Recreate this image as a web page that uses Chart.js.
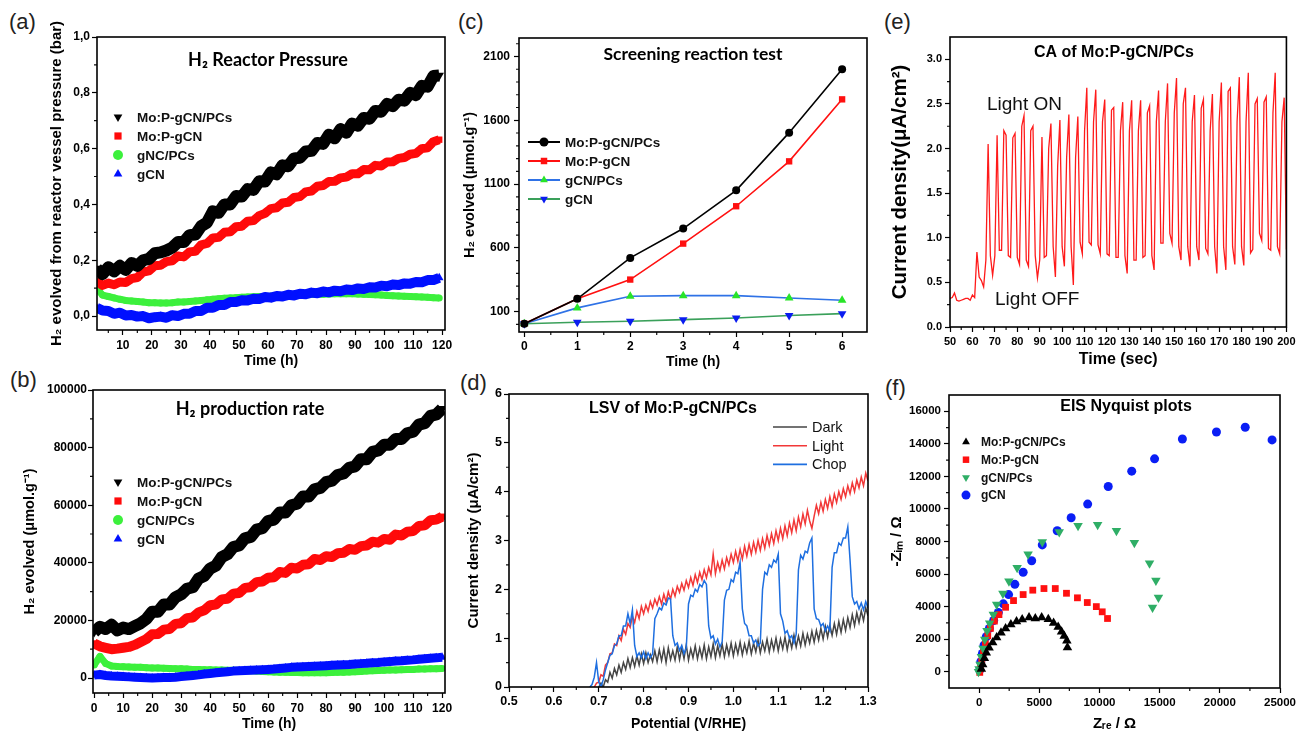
<!DOCTYPE html>
<html>
<head>
<meta charset="utf-8">
<script src="https://cdn.jsdelivr.net/npm/chart.js@4.4.1/dist/chart.umd.min.js"></script>
<style>
  body { margin: 0; background: #fff; width: 1299px; height: 733px; overflow: hidden; position: relative; }
  canvas { position: absolute; }
  .tag { position: absolute; font: 22px 'Liberation Sans', Arial, sans-serif; line-height: 26px; color: #222; }
</style>
</head>
<body>
<div class="tag" style="left:9px;top:9px">(a)</div>
<div class="tag" style="left:10px;top:367px">(b)</div>
<div class="tag" style="left:458px;top:9px">(c)</div>
<div class="tag" style="left:460px;top:370px">(d)</div>
<div class="tag" style="left:884px;top:9px">(e)</div>
<div class="tag" style="left:885px;top:375px">(f)</div>

<canvas id="chartA" width="460" height="372" style="left:0;top:0"></canvas>
<canvas id="chartB" width="460" height="368" style="left:0;top:365px"></canvas>
<canvas id="chartC" width="430" height="372" style="left:450px;top:0"></canvas>
<canvas id="chartD" width="430" height="368" style="left:450px;top:365px"></canvas>
<canvas id="chartE" width="419" height="372" style="left:880px;top:0"></canvas>
<canvas id="chartF" width="419" height="368" style="left:880px;top:365px"></canvas>

<script>
/* --------------------------
   DATA
-------------------------- */

// (a) reactor pressure, bar
const timeA = [1,3,5,7,9,11,13,15,17,19,21,23,25,27,29,31,33,35,37,39,
  41,43,45,47,49,51,53,55,57,59,61,63,65,67,69,71,73,75,77,79,
  81,83,85,87,89,91,93,95,97,99,101,103,105,107,109,111,113,115,117,119];
const pressMoPCs = [0.17,0.15,0.175,0.16,0.18,0.165,0.19,0.18,0.2,0.205,
  0.225,0.228,0.235,0.245,0.265,0.265,0.29,0.292,0.322,0.335,
  0.375,0.37,0.4,0.4,0.43,0.428,0.455,0.452,0.483,0.482,
  0.515,0.508,0.54,0.537,0.565,0.567,0.59,0.592,0.62,0.617,
  0.65,0.637,0.67,0.657,0.69,0.682,0.71,0.707,0.735,0.732,
  0.76,0.752,0.775,0.772,0.8,0.792,0.825,0.822,0.86,0.862];
const pressMo = [0.125,0.11,0.118,0.112,0.122,0.12,0.134,0.138,0.158,0.162,
  0.18,0.182,0.195,0.198,0.215,0.212,0.23,0.232,0.255,0.26,
  0.28,0.282,0.3,0.302,0.32,0.322,0.34,0.342,0.36,0.368,
  0.385,0.388,0.405,0.408,0.425,0.428,0.445,0.448,0.465,0.468,
  0.482,0.483,0.495,0.498,0.51,0.51,0.525,0.524,0.54,0.538,
  0.552,0.553,0.565,0.568,0.58,0.583,0.6,0.603,0.625,0.632];
const pressNCPCs = [0.1,0.075,0.07,0.065,0.06,0.056,0.054,0.052,0.05,0.048,
  0.048,0.047,0.047,0.048,0.05,0.05,0.052,0.054,0.056,0.058,
  0.06,0.062,0.064,0.065,0.066,0.067,0.068,0.069,0.07,0.07,
  0.071,0.072,0.073,0.074,0.075,0.075,0.076,0.077,0.078,0.078,
  0.079,0.08,0.08,0.08,0.08,0.079,0.078,0.077,0.076,0.075,
  0.074,0.073,0.072,0.071,0.07,0.069,0.068,0.067,0.066,0.065];
const pressGCN = [0.03,0.02,0.018,0.008,0.012,0.002,0.004,-0.002,0.0,-0.008,
  -0.004,-0.002,-0.006,0.003,0.0,0.008,0.008,0.018,0.018,0.03,
  0.03,0.04,0.04,0.05,0.05,0.057,0.056,0.062,0.061,0.068,
  0.066,0.072,0.07,0.076,0.074,0.08,0.078,0.084,0.082,0.088,
  0.085,0.091,0.089,0.095,0.093,0.099,0.097,0.103,0.102,0.109,
  0.107,0.113,0.111,0.117,0.116,0.122,0.121,0.129,0.129,0.137];

// (b) production, umol/g
const timeB = [0,2,4,6,8,10,12,14,16,18,20,22,24,26,28,30,32,34,36,38,
  40,42,44,46,48,50,52,54,56,58,60,62,64,66,68,70,72,74,76,78,
  80,82,84,86,88,90,92,94,96,98,100,102,104,106,108,110,112,114,116,118,120];
const prodMoPCs = [16000,17800,17000,18500,16500,17500,17000,18000,19000,20500,
  23000,23000,25500,25500,28000,29000,31000,31500,34500,35500,
  38000,39000,42000,43000,45500,46000,48500,49000,51500,52000,
  54500,55000,57500,57500,60000,60500,63000,63000,65500,66000,
  68000,68500,70500,71000,73000,73500,76000,76000,78500,79000,
  81000,81000,83000,83000,85000,85500,88000,88500,91000,91500,93500];
const prodMo = [12000,11000,10500,10000,10200,10500,10800,11500,12500,13500,
  15200,15300,16800,17000,18800,19000,20800,21000,22800,23500,
  25300,25500,27300,27500,29300,29500,31300,31500,33300,33500,
  34800,35000,36800,36500,38300,38000,39300,39500,41300,41000,
  42300,42000,43300,43500,44800,44500,45800,46000,47300,47000,
  48300,48000,49800,49500,50800,51000,52800,53000,54800,55000,56000];
const prodCNPCs = [4500,7500,5000,4200,4000,3900,3800,3700,3700,3600,
  3500,3500,3400,3300,3200,3200,3100,3000,3000,2900,
  2900,2800,2800,2700,2700,2600,2500,2500,2400,2300,
  2200,2100,2000,2000,1900,1900,1800,1800,1800,1800,
  1800,1900,2000,2000,2100,2200,2300,2400,2500,2600,
  2700,2800,2800,2900,3000,3000,3100,3100,3200,3200,3300];
const prodGCN = [1000,1200,900,700,600,500,400,300,200,100,
  0,100,200,200,300,500,700,900,1100,1400,
  1600,1800,2000,2200,2400,2500,2600,2700,2800,2900,
  3000,3100,3300,3500,3700,3800,3900,4000,4100,4200,
  4300,4400,4500,4600,4700,4900,5000,5100,5300,5400,
  5600,5700,5900,6000,6200,6300,6500,6700,6900,7000,7200];

// (c) screening reaction
const hoursC = [0,1,2,3,4,5,6];
const screenMoPCs = [5,200,521,751,1051,1503,2000];
const screenMo = [5,200,351,633,926,1278,1764];
const screenCNPCs = [5,129,220,225,225,207,189];
const screenGCN = [5,16,24,37,50,69,84];

// (d) LSV
const potentialD = [0.68,0.685,0.69,0.695,0.7,0.705,0.71,0.715,0.72,0.725,
  0.73,0.735,0.74,0.745,0.75,0.755,0.76,0.765,0.77,0.775,
  0.78,0.785,0.79,0.795,0.8,0.805,0.81,0.815,0.82,0.825,
  0.83,0.835,0.84,0.845,0.85,0.855,0.86,0.865,0.87,0.875,
  0.88,0.885,0.89,0.895,0.9,0.905,0.91,0.915,0.92,0.925,
  0.93,0.935,0.94,0.945,0.95,0.955,0.96,0.965,0.97,0.975,
  0.98,0.985,0.99,0.995,1.0,1.005,1.01,1.015,1.02,1.025,
  1.03,1.035,1.04,1.045,1.05,1.055,1.06,1.065,1.07,1.075,
  1.08,1.085,1.09,1.095,1.1,1.105,1.11,1.115,1.12,1.125,
  1.13,1.135,1.14,1.145,1.15,1.155,1.16,1.165,1.17,1.175,
  1.18,1.185,1.19,1.195,1.2,1.205,1.21,1.215,1.22,1.225,
  1.23,1.235,1.24,1.245,1.25,1.255,1.26,1.265,1.27,1.275,
  1.28,1.285,1.29,1.295,1.3];
const lsvDark = [null,null,null,null,0.0,0.08,0.0,0.15,0.1,0.3,
  0.18,0.38,0.25,0.45,0.3,0.5,0.36,0.58,0.4,0.6,
  0.42,0.64,0.45,0.68,0.48,0.7,0.5,0.66,0.52,0.74,
  0.52,0.76,0.54,0.78,0.5,0.8,0.56,0.74,0.55,0.82,
  0.56,0.8,0.58,0.86,0.55,0.78,0.6,0.84,0.58,0.8,
  0.6,0.86,0.58,0.82,0.62,0.88,0.6,0.84,0.64,0.88,
  0.62,0.86,0.66,0.9,0.64,0.88,0.68,0.92,0.66,0.88,
  0.7,0.94,0.68,0.9,0.72,0.96,0.7,0.92,0.74,0.98,
  0.72,0.96,0.76,1.0,0.74,0.98,0.78,1.02,0.76,1.0,
  0.8,1.06,0.82,1.04,0.84,1.1,0.86,1.08,0.9,1.14,
  0.92,1.16,0.96,1.2,0.98,1.24,1.02,1.26,1.06,1.3,
  1.08,1.34,1.12,1.38,1.16,1.42,1.22,1.48,1.26,1.52,
  1.32,1.56,1.36,1.62,1.46];
const lsvLight = [null,null,0.0,0.08,0.1,0.25,0.22,0.45,0.5,0.68,
  0.7,0.88,0.85,1.05,0.95,1.18,1.08,1.3,1.22,1.45,
  1.32,1.55,1.4,1.65,1.5,1.68,1.55,1.75,1.62,1.8,
  1.68,1.85,1.7,1.9,1.74,1.95,1.8,2.0,1.86,2.06,
  1.94,2.12,1.98,2.18,2.04,2.24,2.08,2.3,2.14,2.35,
  2.2,2.4,2.24,2.45,2.3,2.72,2.32,2.55,2.38,2.6,
  2.42,2.65,2.5,2.72,2.55,2.78,2.58,2.82,2.62,2.88,
  2.68,2.92,2.72,2.96,2.76,3.0,2.8,3.04,2.84,3.1,
  2.9,3.14,2.94,3.2,3.0,3.25,3.04,3.3,3.1,3.36,
  3.16,3.42,3.2,3.48,3.28,3.54,3.34,3.62,3.4,3.25,
  3.5,3.72,3.55,3.78,3.6,3.84,3.66,3.9,3.7,3.95,
  3.78,4.0,3.84,4.06,3.9,4.12,3.96,4.18,4.0,4.24,
  4.08,4.3,4.12,4.38,4.22];
const lsvChop = [0.0,0.05,0.2,0.5,0.1,0.0,0.15,0.35,0.5,0.65,
  0.68,0.85,0.88,1.05,1.05,1.25,1.25,1.5,1.3,1.58,
  0.85,0.62,0.7,0.6,0.72,0.58,0.7,0.6,0.68,1.4,
  1.5,1.62,1.58,1.72,1.68,1.82,1.8,1.05,0.85,0.9,
  0.75,0.85,0.68,0.8,1.7,1.88,1.85,2.0,1.95,2.1,
  2.05,2.18,2.1,1.25,1.0,1.05,0.88,0.98,0.82,0.92,
  1.78,1.98,2.0,2.2,2.15,2.35,2.32,2.56,1.6,1.3,
  1.25,1.05,1.05,0.9,0.96,0.84,0.9,2.0,2.35,2.3,
  2.5,2.45,2.6,2.55,2.72,1.5,1.35,1.1,1.15,1.0,
  1.05,0.9,1.08,2.4,2.7,2.62,2.78,2.75,2.95,3.05,
  1.6,1.4,1.38,1.25,1.3,1.15,1.25,1.15,2.45,2.75,
  2.75,2.95,2.9,3.05,3.05,3.28,2.6,1.85,1.7,1.75,
  1.6,1.72,1.58,1.75,1.62];

// (e) chronoamperometry
const timeE = [50,51,52,53,54,55,56,57,58,59,60,61,62,63,64,65,66,67,68,69,
  70,71,72,73,74,75,76,77,78,79,80,81,82,83,84,85,86,87,88,89,
  90,91,92,93,94,95,96,97,98,99,100,101,102,103,104,105,106,107,108,109,
  110,111,112,113,114,115,116,117,118,119,120,121,122,123,124,125,126,127,128,129,
  130,131,132,133,134,135,136,137,138,139,140,141,142,143,144,145,146,147,148,149,
  150,151,152,153,154,155,156,157,158,159,160,161,162,163,164,165,166,167,168,169,
  170,171,172,173,174,175,176,177,178,179,180,181,182,183,184,185,186,187,188,189,
  190,191,192,193,194,195,196,197,198,199,200];
const currentE = [0.32,0.33,0.38,0.30,0.29,0.30,0.31,0.32,0.32,0.30,
  0.36,0.33,0.84,0.56,0.52,0.45,0.75,2.05,0.80,0.58,
  0.80,2.15,0.86,0.86,2.20,2.15,0.80,0.78,2.12,2.17,
  0.78,0.70,2.25,2.37,0.75,0.68,2.20,2.25,0.80,0.55,
  0.75,2.13,0.78,0.80,2.00,2.28,0.90,0.56,1.80,2.32,
  0.90,0.68,1.90,2.38,0.90,0.47,1.90,2.36,0.95,0.82,
  2.20,2.68,0.95,0.92,2.30,2.66,0.92,0.82,2.30,2.55,
  0.82,0.80,2.43,2.46,0.78,0.78,2.20,2.52,0.80,0.60,
  2.20,2.54,0.75,0.75,2.20,2.54,0.78,0.80,2.40,2.48,
  0.80,0.64,2.30,2.65,0.94,0.94,2.30,2.73,1.05,0.94,
  2.40,2.79,0.90,0.75,2.50,2.68,0.90,0.68,2.30,2.60,
  0.90,0.75,2.45,2.55,0.88,0.82,2.20,2.61,0.90,0.60,
  2.30,2.74,0.90,0.64,2.64,2.68,0.90,0.70,2.30,2.80,
  0.90,0.69,2.30,2.85,0.83,0.87,2.50,2.56,1.05,0.97,
  2.52,2.58,0.88,0.86,2.40,2.85,0.90,0.82,2.30,2.57,
  0.87];

// (f) EIS Nyquist
const zreMoPCs = [190,300,440,600,830,1130,1460,1820,2200,2640,3110,3580,4150,4670,5200,5750,6190,6570,6850,7070,7290,7340];
const zimMoPCs = [160,450,820,1160,1470,1800,2100,2390,2660,2900,3090,3210,3330,3270,3330,3230,3000,2740,2450,2190,1900,1490];
const zreMo = [55,110,220,360,520,720,940,1270,1650,2200,2860,3660,4460,5390,6330,7260,8170,8990,9740,10230,10670];
const zimMo = [-40,200,650,1190,1720,2210,2660,3110,3510,3960,4370,4740,5010,5110,5110,4820,4540,4250,4000,3680,3270];
const zreCNPCs = [-50,0,80,190,330,470,660,880,1180,1460,1980,2480,3160,4070,5250,6660,8220,9850,11410,12900,14160,14690,14900,14410];
const zimCNPCs = [0,160,450,920,1430,1980,2510,2980,3510,4130,4800,5560,6380,7210,7970,8580,8970,9030,8660,7930,6660,5600,4560,3940];
const zreGCN = [55,140,275,410,600,850,1210,1600,2010,2450,2970,3660,4370,5250,6490,7650,9020,10730,12680,14580,16890,19720,22110,24340];
const zimGCN = [100,610,1120,1630,2150,2660,3150,3640,4170,4740,5370,6110,6820,7790,8660,9460,10300,11380,12320,13080,14300,14730,15020,14240];

// tick values
const ticksAx = [10,20,30,40,50,60,70,80,90,100,110,120];
const minorAx = [5,15,25,35,45,55,65,75,85,95,105,115];
const ticksAy = [0,0.2,0.4,0.6,0.8,1.0];
const minorAy = [0.1,0.3,0.5,0.7,0.9];
const ticksBx = [0,10,20,30,40,50,60,70,80,90,100,110,120];
const ticksBy = [0,20000,40000,60000,80000,100000];
const minorBy = [10000,30000,50000,70000,90000];
const ticksCx = [0,1,2,3,4,5,6];
const minorCx = [0.5,1.5,2.5,3.5,4.5,5.5];
const ticksCy = [100,600,1100,1600,2100];
const minorCy = [0,200,300,400,500,700,800,900,1000,1200,1300,1400,1500,1700,1800,1900,2000,2200];
const ticksDx = [0.5,0.6,0.7,0.8,0.9,1.0,1.1,1.2,1.3];
const minorDx = [0.55,0.65,0.75,0.85,0.95,1.05,1.15,1.25];
const ticksDy = [0,1,2,3,4,5,6];
const minorDy = [0.5,1.5,2.5,3.5,4.5,5.5];
const ticksEx = [50,60,70,80,90,100,110,120,130,140,150,160,170,180,190,200];
const minorEx = [55,65,75,85,95,105,115,125,135,145,155,165,175,185,195];
const ticksEy = [0,0.5,1.0,1.5,2.0,2.5,3.0];
const minorEy = [0.25,0.75,1.25,1.75,2.25,2.75];
const ticksFx = [0,5000,10000,15000,20000,25000];
const minorFx = [2500,7500,12500,17500,22500];
const ticksFy = [0,2000,4000,6000,8000,10000,12000,14000,16000];
const minorFy = [1000,3000,5000,7000,9000,11000,13000,15000];

/* --------------------------
   HELPERS
-------------------------- */
const SANS = "'Liberation Sans', Arial, sans-serif";
const CAL = "Lato, 'Open Sans', sans-serif";

Chart.defaults.animation = false;
Chart.defaults.font.family = SANS;
Chart.defaults.color = "#000";

const pts = (xs, ys) => xs.map((x, i) => ({ x, y: ys[i] })).filter(p => p.y !== null);

function axis(o) {
    return {
        type: "linear",
        min: o.min,
        max: o.max,
        afterBuildTicks: s => { s.ticks = o.ticks.map(v => ({ value: v })); },
        afterFit: s => {
            if (o.width) s.width = o.width;
            if (o.height) s.height = o.height;
        },
        grid: { display: true, drawOnChartArea: false, drawTicks: true, tickLength: 5, tickWidth: 1.2, tickColor: "#000" },
        border: { display: false },
        ticks: {
            autoSkip: false, maxRotation: 0, padding: o.pad, color: "#000",
            font: { family: SANS, size: o.size, weight: "bold" },
            callback: o.fmt || (v => v)
        },
        title: {
            display: true, text: o.title, color: "#000",
            font: { family: SANS, size: o.titleSize, weight: "bold", lineHeight: 1.2 },
            padding: o.titlePad
        }
    };
}

function drawMarker(ctx, style, x, y, r, color) {
    ctx.save();
    ctx.fillStyle = color;
    ctx.beginPath();
    if (style === "circle") {
        ctx.arc(x, y, r, 0, Math.PI * 2);
    } else if (style === "rect") {
        const h = r * 0.72;
        ctx.rect(x - h, y - h, 2 * h, 2 * h);
    } else if (style === "triangle") {
        ctx.moveTo(x, y - r);
        ctx.lineTo(x + r * 0.87, y + r * 0.5);
        ctx.lineTo(x - r * 0.87, y + r * 0.5);
    } else {
        ctx.moveTo(x, y + r);
        ctx.lineTo(x + r * 0.87, y - r * 0.5);
        ctx.lineTo(x - r * 0.87, y - r * 0.5);
    }
    ctx.closePath();
    ctx.fill();
    ctx.restore();
}

// frame, minor ticks, inner title, legend and notes
const decorPlugin = {
    id: "decor",
    afterDraw(chart, args, d) {
        const { ctx, chartArea: a } = chart;
        ctx.save();
        ctx.strokeStyle = "#111";
        ctx.lineWidth = 1.2;
        ctx.beginPath();
        (d.minorX || []).forEach(v => {
            const px = chart.scales.x.getPixelForValue(v);
            ctx.moveTo(px, a.bottom);
            ctx.lineTo(px, a.bottom + 3);
        });
        (d.minorY || []).forEach(v => {
            const py = chart.scales.y.getPixelForValue(v);
            ctx.moveTo(a.left - 3, py);
            ctx.lineTo(a.left, py);
        });
        ctx.stroke();

        ctx.lineWidth = 1.6;
        ctx.strokeStyle = "#000";
        ctx.strokeRect(a.left, a.top, a.right - a.left, a.bottom - a.top);

        ctx.fillStyle = "#000";
        ctx.textBaseline = "middle";
        if (d.title) {
            ctx.font = d.title.font;
            ctx.textAlign = "center";
            ctx.fillText(d.title.text, d.title.x, d.title.y);
        }
        (d.notes || []).forEach(n => {
            ctx.font = n.font;
            ctx.textAlign = "left";
            ctx.fillStyle = "#111";
            ctx.fillText(n.text, n.x, n.y);
        });
        if (d.legend) {
            const L = d.legend;
            L.items.forEach((it, i) => {
                const y = L.y + i * L.dy;
                if (it.line) {
                    ctx.strokeStyle = it.line;
                    ctx.lineWidth = L.lineWidth || 2;
                    ctx.beginPath();
                    ctx.moveTo(L.x1, y);
                    ctx.lineTo(L.x2, y);
                    ctx.stroke();
                }
                if (it.marker) drawMarker(ctx, it.marker, (L.x1 + L.x2) / 2, y, L.r, it.color);
                ctx.font = L.font;
                ctx.textAlign = "left";
                ctx.fillStyle = "#111";
                ctx.fillText(it.label, L.tx, y + 1);
            });
        }
        ctx.restore();
    }
};
Chart.register(decorPlugin);

function makeChart(id, datasets, padding, xAxis, yAxis, decor) {
    return new Chart(document.getElementById(id), {
        type: "scatter",
        data: { datasets },
        options: {
            responsive: false,
            layout: { padding },
            scales: { x: axis(xAxis), y: axis(yAxis) },
            plugins: { legend: { display: false }, tooltip: { enabled: false }, decor }
        }
    });
}

function band(xs, ys, color, width, style, r, order) {
    return {
        data: pts(xs, ys), showLine: true, borderColor: color, backgroundColor: color,
        borderWidth: width, borderJoinStyle: "round", pointStyle: style === "down" ? "triangle" : style,
        pointRotation: style === "down" ? 180 : 0, pointRadius: r, pointBorderWidth: 0, order
    };
}

const BLACK = "#000000", RED = "#ff0a0a", GREEN = "#3cf03c", BLUE = "#0010ff";

/* --------------------------
   (a) H2 REACTOR PRESSURE
-------------------------- */
makeChart("chartA", [
    band(timeA, pressMoPCs, BLACK, 12, "down", 5.5, 0),
    band(timeA, pressMo, RED, 9, "rect", 4.5, 1),
    band(timeA, pressGCN, BLUE, 10, "triangle", 5, 2),
    band(timeA, pressNCPCs, GREEN, 7, "circle", 3.5, 3)
], { left: 0, top: 37, right: 15, bottom: 0 },
{ min: 1.1, max: 121, ticks: ticksAx, width: 0, height: 42, pad: 3, size: 12,
  title: "Time (h)", titleSize: 14, titlePad: { bottom: 2.6 } },
{ min: -0.05, max: 1.0, ticks: ticksAy, width: 97, pad: 2, size: 12,
  fmt: v => v.toFixed(1).replace(".", ","),
  title: "H\u2082 evolved from reactor vessel pressure (bar)", titleSize: 15, titlePad: { top: 48 } },
{
    minorX: minorAx, minorY: minorAy,
    title: { text: "H\u2082 Reactor Pressure", x: 268, y: 60, font: "bold 18px " + CAL },
    legend: {
        x1: 112, x2: 124, tx: 137, y: 117, dy: 19, r: 5, font: "bold 13.5px " + SANS,
        items: [
            { label: "Mo:P-gCN/PCs", color: BLACK, marker: "down" },
            { label: "Mo:P-gCN", color: RED, marker: "rect" },
            { label: "gNC/PCs", color: GREEN, marker: "circle" },
            { label: "gCN", color: BLUE, marker: "triangle" }
        ]
    }
});

/* --------------------------
   (b) H2 PRODUCTION RATE
-------------------------- */
makeChart("chartB", [
    band(timeB, prodMoPCs, BLACK, 12, "down", 5.5, 0),
    band(timeB, prodMo, RED, 10, "rect", 4.5, 1),
    band(timeB, prodGCN, BLUE, 9, "triangle", 5, 2),
    band(timeB, prodCNPCs, GREEN, 7, "circle", 3.5, 3)
], { left: 0, top: 25, right: 15, bottom: 0 },
{ min: -0.4, max: 121, ticks: ticksBx, height: 40, pad: 3, size: 12,
  title: "Time (h)", titleSize: 14, titlePad: { bottom: 0 } },
{ min: -5200, max: 100000, ticks: ticksBy, width: 93, pad: 1, size: 12,
  title: "H\u2082 evolved (\u03bcmol.g\u207b\u00b9)", titleSize: 14.5, titlePad: { top: 21 } },
{
    minorX: minorAx, minorY: minorBy,
    title: { text: "H\u2082 production rate", x: 250, y: 44, font: "bold 18px " + CAL },
    legend: {
        x1: 112, x2: 124, tx: 137, y: 117, dy: 19, r: 5, font: "bold 13.5px " + SANS,
        items: [
            { label: "Mo:P-gCN/PCs", color: BLACK, marker: "down" },
            { label: "Mo:P-gCN", color: RED, marker: "rect" },
            { label: "gCN/PCs", color: GREEN, marker: "circle" },
            { label: "gCN", color: BLUE, marker: "triangle" }
        ]
    }
});

/* --------------------------
   (c) SCREENING REACTION TEST
-------------------------- */
function linePts(ys, line, marker, style, r) {
    return {
        data: pts(hoursC, ys), showLine: true, borderColor: line, borderWidth: 1.6,
        backgroundColor: marker, pointStyle: style === "down" ? "triangle" : style,
        pointRotation: style === "down" ? 180 : 0, pointRadius: r, pointBorderWidth: 0
    };
}
makeChart("chartC", [
    linePts(screenMoPCs, "#000", "#000", "circle", 4),
    linePts(screenMo, "#ff1010", "#ff1010", "rect", 4.5),
    linePts(screenCNPCs, "#2f72e6", "#28e428", "triangle", 5),
    linePts(screenGCN, "#3aa05a", "#0a1cf0", "down", 5)
], { left: 0, top: 38, right: 13, bottom: 0 },
{ min: -0.1, max: 6.47, ticks: ticksCx, height: 40, pad: 2, size: 12,
  title: "Time (h)", titleSize: 14, titlePad: { bottom: 1.6 } },
{ min: -60, max: 2245, ticks: ticksCy, width: 69, pad: 4, size: 12,
  title: "H\u2082 evolved (\u03bcmol.g\u207b\u00b9)", titleSize: 14.5, titlePad: { top: 11 } },
{
    minorX: minorCx, minorY: minorCy,
    title: { text: "Screening reaction test", x: 243, y: 54, font: "bold 17.5px " + CAL },
    legend: {
        x1: 78, x2: 110, tx: 115, y: 142, dy: 19, r: 4.5, lineWidth: 2, font: "bold 13.5px " + SANS,
        items: [
            { label: "Mo:P-gCN/PCs", color: "#000", line: "#000", marker: "circle" },
            { label: "Mo:P-gCN", color: "#ff1010", line: "#ff1010", marker: "rect" },
            { label: "gCN/PCs", color: "#28e428", line: "#2f72e6", marker: "triangle" },
            { label: "gCN", color: "#0a1cf0", line: "#3aa05a", marker: "down" }
        ]
    }
});

/* --------------------------
   (d) LSV
-------------------------- */
function trace(ys, color, order) {
    return {
        data: pts(potentialD, ys), showLine: true, borderColor: color, borderWidth: 1.5,
        pointRadius: 0, order
    };
}
makeChart("chartD", [
    trace(lsvDark, "#454545", 2),
    trace(lsvLight, "#f23838", 1),
    trace(lsvChop, "#1e6fe0", 0)
], { left: 0, top: 29, right: 12, bottom: 0 },
{ min: 0.5, max: 1.3, ticks: ticksDx, height: 46, pad: 2.5, size: 12.5,
  fmt: v => v.toFixed(1),
  title: "Potential (V/RHE)", titleSize: 14, titlePad: { bottom: 0 } },
{ min: 0, max: 6, ticks: ticksDy, width: 59, pad: 2, size: 12.5,
  title: "Current density (\u03bcA/cm\u00b2)", titleSize: 15, titlePad: { top: 15 } },
{
    minorX: minorDx, minorY: minorDy,
    title: { text: "LSV of Mo:P-gCN/PCs", x: 223, y: 44, font: "bold 16px " + SANS },
    legend: {
        x1: 323, x2: 357, tx: 362, y: 62, dy: 18.7, r: 0, lineWidth: 1.6, font: "14.5px " + SANS,
        items: [
            { label: "Dark", line: "#454545" },
            { label: "Light", line: "#f23838" },
            { label: "Chop", line: "#1e6fe0" }
        ]
    }
});

/* --------------------------
   (e) CA
-------------------------- */
makeChart("chartE", [
    { data: pts(timeE, currentE), showLine: true, borderColor: "#ff1a1a", borderWidth: 1.3, pointRadius: 0 }
], { left: 0, top: 37, right: 10, bottom: 0 },
{ min: 50, max: 200, ticks: ticksEx, height: 45, pad: 3.4, size: 11,
  title: "Time (sec)", titleSize: 16, titlePad: { bottom: 2.4 } },
{ min: 0, max: 3.25, ticks: ticksEy, width: 70, pad: 3, size: 11,
  fmt: v => v.toFixed(1),
  title: "Current density(\u03bcA/cm\u00b2)", titleSize: 20.5, titlePad: { top: 8 } },
{
    minorX: minorEx, minorY: minorEy,
    title: { text: "CA of Mo:P-gCN/PCs", x: 234, y: 53, font: "bold 16px " + SANS },
    notes: [
        { text: "Light ON", x: 107, y: 105, font: "19px " + SANS },
        { text: "Light OFF", x: 115, y: 300, font: "19px " + SANS }
    ]
});

/* --------------------------
   (f) EIS NYQUIST
-------------------------- */
function dots(xs, ys, color, style, r) {
    return {
        data: pts(xs, ys), backgroundColor: color, borderWidth: 0,
        pointStyle: style === "down" ? "triangle" : style,
        pointRotation: style === "down" ? 180 : 0, pointRadius: r
    };
}
makeChart("chartF", [
    dots(zreMoPCs, zimMoPCs, "#000", "triangle", 5.5),
    dots(zreCNPCs, zimCNPCs, "#2fae66", "down", 5.5),
    dots(zreMo, zimMo, "#ff1010", "rect", 4.8),
    dots(zreGCN, zimGCN, "#0a1ef5", "circle", 4.5)
], { left: 0, top: 30, right: 16, bottom: 0 },
{ min: -2500, max: 25000, ticks: ticksFx, height: 45, pad: 3, size: 11.5,
  title: "Z\u1d63\u2091 / \u03a9", titleSize: 15, titlePad: { bottom: 0 } },
{ min: -1000, max: 17000, ticks: ticksFy, width: 69, pad: 3, size: 11.5,
  title: "-Z\u1d62\u2098 / \u03a9", titleSize: 15, titlePad: { top: 8 } },
{
    minorX: minorFx, minorY: minorFy,
    title: { text: "EIS Nyquist plots", x: 246, y: 42, font: "bold 16px " + SANS },
    legend: {
        x1: 80, x2: 92, tx: 101, y: 77, dy: 17.7, r: 4.5, font: "bold 12px " + SANS,
        items: [
            { label: "Mo:P-gCN/PCs", color: "#000", marker: "triangle" },
            { label: "Mo:P-gCN", color: "#ff1010", marker: "rect" },
            { label: "gCN/PCs", color: "#2fae66", marker: "down" },
            { label: "gCN", color: "#0a1ef5", marker: "circle" }
        ]
    }
});
</script>
</body>
</html>
